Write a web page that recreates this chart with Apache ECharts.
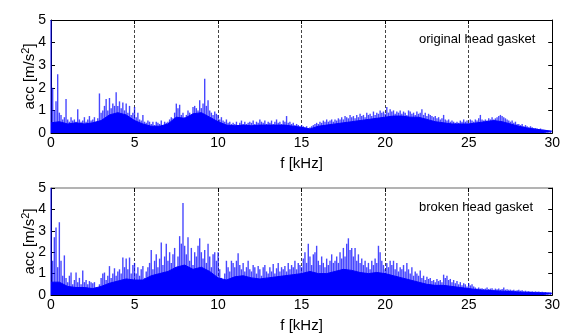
<!DOCTYPE html>
<html>
<head>
<meta charset="utf-8">
<script src="https://cdn.jsdelivr.net/npm/echarts@6/dist/echarts.min.js"></script>
<style>
  html, body { margin: 0; padding: 0; background: #fff; }
  #chart { width: 563px; height: 334px; }
</style>
</head>
<body>
<div id="chart"></div>
<script>
// Acceleration spectra of the engine block, 0–30 kHz
const peakStep = 0.1;   // kHz between spectral peak samples
const bodyStep = 0.5;   // kHz between dense-floor samples
const xTickLabels = [0, 5, 10, 15, 20, 25, 30];
const yTickLabels = [0, 1, 2, 3, 4, 5];
const panelLabels = ['original head gasket', 'broken head gasket'];

// original head gasket: spectral peaks, one per 0.1 kHz
const peaksOriginal = [
  5.0, 2.0, 1.0, 1.4, 2.6, 0.9, 0.8, 0.6, 0.7, 1.5,
  0.6, 0.5, 0.7, 0.55, 0.6, 0.5, 1.05, 0.6, 0.5, 0.55,
  0.7, 0.5, 0.6, 0.75, 0.55, 0.6, 0.7, 0.5, 0.65, 1.75,
  0.9, 1.0, 1.2, 1.5, 1.0, 1.55, 1.1, 1.3, 1.2, 1.8,
  1.2, 1.4, 1.1, 1.35, 1.0, 1.3, 0.9, 1.2, 0.8, 0.9,
  1.15, 0.7, 0.9, 0.6, 0.55, 0.8, 0.5, 0.45, 0.55, 0.5,
  0.4, 0.5, 0.35, 0.5, 0.45, 0.4, 0.55, 0.35, 0.5, 0.45,
  0.5, 0.6, 0.7, 0.65, 0.9, 1.3, 1.1, 1.25, 0.8, 0.9,
  0.7, 0.8, 1.0, 0.9, 0.75, 1.15, 1.2, 1.1, 1.0, 1.45,
  1.1, 1.3, 2.4, 1.2, 1.45, 1.0, 0.9, 0.8, 0.95, 0.85,
  0.8, 0.6, 0.7, 0.55, 0.5, 0.6, 0.45, 0.5, 0.4, 0.45,
  0.4, 0.5, 0.35, 0.45, 0.55, 0.4, 0.5, 0.4, 0.45, 0.5,
  0.45, 0.55, 0.4, 0.5, 0.45, 0.6, 0.5, 0.45, 0.55, 0.4,
  0.5, 0.45, 0.55, 0.4, 0.5, 0.6, 0.45, 0.5, 0.4, 0.55,
  0.5, 0.75, 0.45, 0.5, 0.4, 0.45, 0.35, 0.4, 0.35, 0.3,
  0.35, 0.3, 0.25, 0.3, 0.2, 0.25, 0.3, 0.35, 0.4, 0.45,
  0.4, 0.5, 0.45, 0.55, 0.5, 0.6, 0.5, 0.55, 0.6, 0.5,
  0.6, 0.55, 0.65, 0.6, 0.7, 0.6, 0.75, 0.7, 0.65, 0.8,
  0.7, 0.75, 0.65, 0.8, 0.7, 0.85, 0.75, 0.8, 0.7, 0.9,
  0.8, 0.85, 0.75, 0.95, 0.8, 0.9, 0.85, 1.0, 0.9, 0.95,
  0.85, 1.15, 0.9, 1.05, 0.95, 1.0, 0.85, 0.95, 0.9, 1.0,
  0.85, 0.95, 0.9, 0.8, 1.0, 0.95, 0.85, 0.9, 0.8, 0.95,
  0.85, 0.9, 1.05, 0.8, 0.9, 0.75, 0.85, 0.8, 0.75, 0.7,
  0.75, 0.65, 0.7, 0.6, 0.65, 0.8, 0.6, 0.55, 0.6, 0.5,
  0.55, 0.5, 0.45, 0.5, 0.45, 0.55, 0.5, 0.6, 0.5, 0.55,
  0.45, 0.6, 0.55, 0.5, 0.6, 0.55, 0.65, 0.8, 0.6, 0.55,
  0.6, 0.55, 0.65, 0.6, 0.7, 0.6, 0.65, 0.7, 0.75, 0.8,
  0.75, 0.7, 0.65, 0.6, 0.55, 0.5, 0.55, 0.45, 0.5, 0.4,
  0.4, 0.35, 0.4, 0.3, 0.35, 0.3, 0.25, 0.3, 0.25, 0.22,
  0.22, 0.2, 0.18, 0.2, 0.16, 0.15, 0.14, 0.12, 0.11, 0.1
];

// original head gasket: dense spectral floor, one per 0.5 kHz
const bodyOriginal = [
  0.45, 0.5, 0.4, 0.45, 0.4, 0.45, 0.55, 0.8, 0.9, 0.8,
  0.55, 0.4, 0.3, 0.3, 0.4, 0.7, 0.65, 0.85, 0.9, 0.7,
  0.5, 0.35, 0.32, 0.35, 0.32, 0.35, 0.35, 0.35, 0.35, 0.3,
  0.25, 0.18, 0.3, 0.35, 0.4, 0.45, 0.5, 0.55, 0.6, 0.65,
  0.7, 0.75, 0.75, 0.7, 0.7, 0.6, 0.5, 0.45, 0.4, 0.4,
  0.4, 0.45, 0.5, 0.55, 0.5, 0.4, 0.3, 0.22, 0.17, 0.12,
  0.08
];

// broken head gasket: spectral peaks, one per 0.1 kHz
const peaksBroken = [
  5.0, 1.6, 2.7, 3.15, 1.3, 3.4, 1.6, 0.9, 1.85, 0.8,
  0.6, 0.9, 1.05, 0.5, 0.7, 1.05, 0.6, 0.8, 0.5, 1.15,
  0.6, 0.7, 0.5, 0.65, 0.6, 0.55, 0.6, 0.35, 0.25, 0.5,
  0.8, 1.0, 1.05, 0.7, 0.9, 1.35, 0.8, 1.0, 1.25, 0.9,
  1.1, 1.2, 1.0, 1.75, 1.3, 1.7, 1.2, 1.75, 1.0, 1.4,
  1.5, 1.0, 1.3, 0.9, 1.2, 1.35, 0.8, 1.1, 1.3, 1.5,
  2.1, 1.2, 1.6, 1.9, 1.3, 1.7, 2.45, 1.4, 1.8, 2.4,
  1.6, 2.0, 1.5, 1.9, 2.2, 1.3, 1.8, 2.75, 2.4, 4.3,
  2.3, 1.9, 2.7, 1.6, 2.2, 1.4, 2.0, 1.8, 2.3, 2.65,
  2.0, 1.7, 2.1, 1.5, 2.4, 1.8, 1.3, 1.9, 2.0, 1.6,
  2.0, 1.2, 0.8, 0.5, 1.0, 1.6, 1.3, 1.1, 1.6, 1.5,
  1.3, 1.6, 1.95, 1.4, 1.2, 1.5, 1.1, 1.3, 1.6, 1.2,
  1.1, 1.4, 1.3, 1.0, 1.35, 1.2, 0.9, 1.3, 1.4, 1.1,
  1.0, 1.3, 1.1, 1.45, 1.0, 1.25, 1.5, 1.1, 1.3, 1.2,
  1.35, 1.1, 1.5, 1.2, 1.4, 1.3, 1.6, 1.2, 1.5, 1.4,
  1.3, 1.7, 2.0, 1.5, 2.4, 1.8, 1.4, 1.9, 2.0, 2.3,
  1.6, 1.4, 1.8, 1.5, 1.3, 1.7, 1.4, 1.6, 1.9, 1.5,
  1.6, 1.8, 1.5, 2.0, 1.7, 2.2, 1.8, 2.4, 2.65, 2.1,
  2.2, 1.8, 2.2, 1.6, 1.9, 1.5, 1.7, 1.4, 1.6, 1.3,
  1.5, 1.2, 1.6, 1.4, 1.7, 1.5, 2.3, 2.0, 1.6, 1.4,
  1.2, 1.5, 1.3, 1.6, 1.4, 1.6, 1.2, 1.5, 1.1, 1.3,
  1.2, 1.4, 1.1, 1.5, 1.2, 1.0, 1.3, 0.9, 1.1, 1.0,
  0.9, 1.15, 0.8, 0.9, 0.7, 0.85, 0.75, 0.8, 0.65, 0.7,
  0.6, 0.75, 0.65, 0.7, 0.6, 0.95, 0.8, 0.9, 0.7, 0.75,
  0.6, 0.7, 0.55, 0.65, 0.5, 0.6, 0.45, 0.55, 0.5, 0.4,
  0.55, 0.45, 0.5, 0.4, 0.35, 0.3, 0.35, 0.3, 0.32, 0.28,
  0.3, 0.35, 0.28, 0.3, 0.32, 0.25, 0.3, 0.27, 0.3, 0.25,
  0.28, 0.35, 0.25, 0.27, 0.24, 0.25, 0.22, 0.24, 0.2, 0.22,
  0.24, 0.2, 0.22, 0.18, 0.2, 0.17, 0.19, 0.16, 0.18, 0.15,
  0.17, 0.15, 0.16, 0.14, 0.15, 0.13, 0.14, 0.12, 0.13, 0.12
];

// broken head gasket: dense spectral floor, one per 0.5 kHz
const bodyBroken = [
  0.6, 0.6, 0.4, 0.35, 0.35, 0.3, 0.4, 0.55, 0.65, 0.75,
  0.7, 0.7, 0.9, 1.0, 1.1, 1.3, 1.4, 1.2, 1.3, 1.1,
  0.8, 0.7, 0.85, 0.9, 0.8, 0.75, 0.8, 0.85, 0.9, 0.95,
  1.0, 1.1, 1.0, 1.0, 1.1, 1.2, 1.15, 1.05, 1.0, 1.05,
  1.0, 0.9, 0.8, 0.7, 0.6, 0.5, 0.45, 0.45, 0.4, 0.35,
  0.3, 0.25, 0.22, 0.2, 0.18, 0.16, 0.14, 0.12, 0.11, 0.1,
  0.08
];

const FONT = 'Liberation Sans, Arial, sans-serif';
const BLUE = '#0000ff';

const toPairs = (vals, step) => vals.map((v, i) => [Math.round(i * step * 100) / 100, v]);

const gridTops = [20, 188];
const grids = gridTops.map(t => ({ left: 51, top: t, width: 503, height: 113, show: false }));

const xAxes = [];
const yAxes = [];
gridTops.forEach((t, gi) => {
  const topLine = gi === 0 ? '#000' : '#9a9a9a';
  xAxes.push({
    gridIndex: gi, type: 'value', position: 'bottom',
    min: xTickLabels[0], max: xTickLabels[xTickLabels.length - 1], interval: 5,
    axisLine: { show: true, onZero: false, lineStyle: { color: '#000', width: 1 } },
    axisTick: { show: true, inside: true, length: 4, lineStyle: { color: '#000' } },
    axisLabel: { color: '#000', fontSize: 14, fontFamily: FONT, margin: 3 },
    splitLine: { show: true, lineStyle: { color: '#444', type: [3, 2], width: 1 } },
    name: 'f [kHz]', nameLocation: 'middle', nameGap: 23,
    nameTextStyle: { color: '#000', fontSize: 15, fontFamily: FONT }
  });
  xAxes.push({
    gridIndex: gi, type: 'value', position: 'top',
    min: xTickLabels[0], max: xTickLabels[xTickLabels.length - 1], interval: 5,
    axisLine: { show: true, onZero: false, lineStyle: { color: topLine, width: gi === 0 ? 1 : 1.5 } },
    axisTick: { show: true, inside: true, length: 4, lineStyle: { color: '#000' } },
    axisLabel: { show: false }, splitLine: { show: false }
  });
  yAxes.push({
    gridIndex: gi, type: 'value', position: 'left',
    min: yTickLabels[0], max: yTickLabels[yTickLabels.length - 1], interval: 1,
    axisLine: { show: true, onZero: false, lineStyle: { color: '#000', width: 1 } },
    axisTick: { show: true, inside: true, length: 4, lineStyle: { color: '#000' } },
    axisLabel: { color: '#000', fontSize: 14, fontFamily: FONT, margin: 5 },
    splitLine: { show: false },
    name: 'acc [m/s{sup|2}]', nameLocation: 'middle', nameGap: 11, nameRotate: 90,
    nameMoveOverlap: false,
    nameTextStyle: {
      color: '#000', fontSize: 15, fontFamily: FONT, lineHeight: 20,
      rich: { sup: { fontSize: 11, fontFamily: FONT, color: '#000', verticalAlign: 'top', lineHeight: 20 } }
    }
  });
  yAxes.push({
    gridIndex: gi, type: 'value', position: 'right',
    min: yTickLabels[0], max: yTickLabels[yTickLabels.length - 1], interval: 1,
    axisLine: { show: true, onZero: false, lineStyle: { color: '#000', width: 1 } },
    axisTick: { show: true, inside: true, length: 4, lineStyle: { color: '#000' } },
    axisLabel: { show: false }, splitLine: { show: false }
  });
});

const panels = [
  { peaks: peaksOriginal, body: bodyOriginal },
  { peaks: peaksBroken, body: bodyBroken }
];

const series = [];
panels.forEach((p, gi) => {
  series.push({
    type: 'bar', xAxisIndex: 2 * gi, yAxisIndex: 2 * gi,
    data: toPairs(p.peaks, peakStep), barWidth: 1.4,
    itemStyle: { color: 'rgba(0,0,255,0.72)' },
    silent: true, animation: false, z: 2
  });
  series.push({
    type: 'line', xAxisIndex: 2 * gi, yAxisIndex: 2 * gi,
    data: toPairs(p.body, bodyStep), showSymbol: false,
    lineStyle: { color: BLUE, width: 1 },
    areaStyle: { color: BLUE, opacity: 1 },
    silent: true, animation: false, z: 3
  });
});

const chart = echarts.init(document.getElementById('chart'), null, { renderer: 'canvas' });
chart.setOption({
  animation: false,
  backgroundColor: '#fff',
  grid: grids,
  xAxis: xAxes,
  yAxis: yAxes,
  series: series,
  graphic: panelLabels.map((txt, gi) => ({
    type: 'text', left: 419, top: gridTops[gi] + 13, z: 10,
    style: { text: txt, fontSize: 13, fontFamily: FONT, fill: '#000' }
  }))
});
</script>
</body>
</html>
